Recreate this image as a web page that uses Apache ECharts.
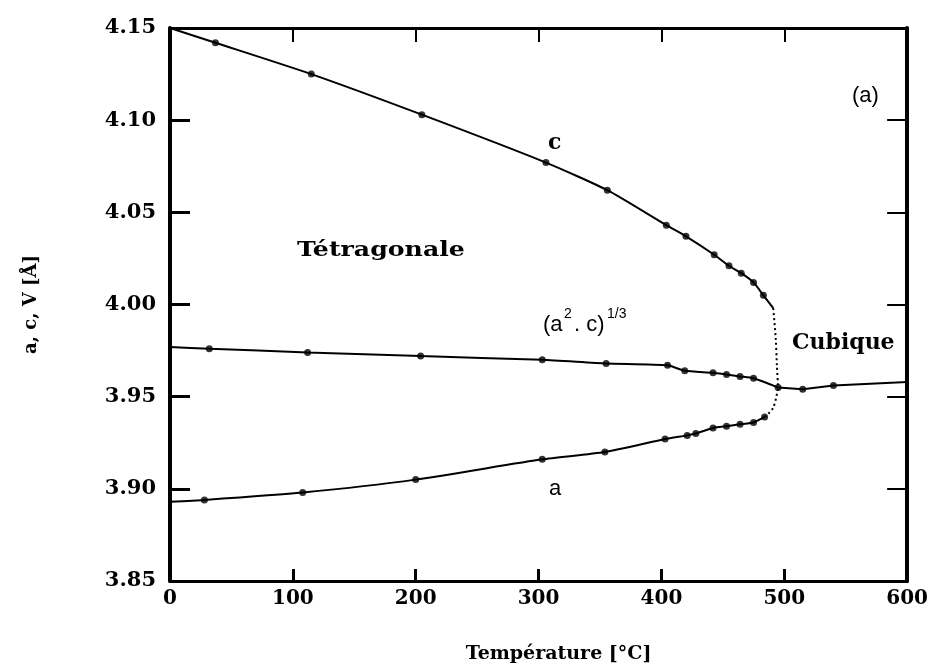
<!DOCTYPE html>
<html>
<head>
<meta charset="utf-8">
<script src="https://cdn.jsdelivr.net/npm/echarts@6/dist/echarts.min.js"></script>
<style>html,body{margin:0;padding:0;background:#fff}#c{width:931px;height:672px}</style>
</head>
<body>
<div id="c"></div>
<script>
// ---- Data (temperature °C, lattice parameter Å) ----
const xTicks = [0, 100, 200, 300, 400, 500, 600];
const yTicks = [3.85, 3.90, 3.95, 4.00, 4.05, 4.10, 4.15];

const cStart = [0, 4.150];
const cDots = [[37,4.142],[115,4.125],[205,4.103],[306,4.077],[356,4.062],[404,4.043],[420,4.037],[443,4.027],[455,4.021],[465,4.017],[475,4.012],[483,4.005]];
const cEnd = [491, 3.998];
const cTrans = [[491,3.998],[493,3.982],[494,3.967],[495,3.955]];

const vStart = [0, 3.977];
const vDots = [[32,3.976],[112,3.974],[204,3.972],[303,3.970],[355,3.968],[405,3.967],[419,3.964],[442,3.963],[453,3.962],[464,3.961],[475,3.960]];

const aStart = [0, 3.893];
const aDots = [[28,3.894],[108,3.898],[200,3.905],[303,3.916],[354,3.920],[403,3.927],[421,3.929],[428,3.930],[442,3.933],[453,3.934],[464,3.935],[475,3.936],[484,3.939]];
const aTrans = [[484,3.939],[491,3.944],[495,3.955]];

const junction = [495, 3.955];
const cubDots = [[515,3.954],[540,3.956]];
const cubEnd = [600, 3.958];

const serifB = 'DejaVu Serif';
const lineBase = {type:'line', showSymbol:false, symbol:'none', smooth:0.2, lineStyle:{color:'#000', width:2}, z:3, silent:true};

const chart = echarts.init(document.getElementById('c'));
chart.setOption({
  animation:false,
  backgroundColor:'#fff',
  grid:{left:170, right:16, top:28, bottom:91},
  xAxis:[{
    type:'value', min:0, max:600, interval:100, position:'bottom',
    axisLine:{onZero:false, lineStyle:{color:'#000', width:3}},
    axisTick:{inside:true, length:12, lineStyle:{color:'#000', width:3}},
    axisLabel:{margin:8, color:'#000', fontFamily:serifB, fontWeight:'bold', fontSize:20,
      formatter:v=>xTicks.includes(v)?String(v):''},
    splitLine:{show:false},
    name:'Température [°C]', nameLocation:'middle', nameGap:64,
    nameTextStyle:{color:'#000', fontFamily:serifB, fontWeight:'bold', fontSize:19, padding:[0,0,0,40]}
  },{
    type:'value', min:0, max:600, interval:100, position:'top',
    axisLine:{onZero:false, lineStyle:{color:'#000', width:3}},
    axisTick:{inside:true, length:14, lineStyle:{color:'#000', width:2}},
    axisLabel:{show:false}, splitLine:{show:false}
  }],
  yAxis:[{
    type:'value', min:3.85, max:4.15, interval:0.05, position:'left',
    axisLine:{onZero:false, lineStyle:{color:'#000', width:4}},
    axisTick:{inside:true, length:20, lineStyle:{color:'#000', width:3}},
    axisLabel:{margin:14, color:'#000', fontFamily:serifB, fontWeight:'bold', fontSize:21,
      formatter:v=>v.toFixed(2)},
    splitLine:{show:false},
    name:'a, c, V [Å]', nameLocation:'middle', nameGap:130,
    nameTextStyle:{color:'#000', fontFamily:serifB, fontWeight:'bold', fontSize:18, padding:[0,0,0,0]}
  },{
    type:'value', min:3.85, max:4.15, interval:0.05, position:'right',
    axisLine:{onZero:false, lineStyle:{color:'#000', width:4}},
    axisTick:{inside:true, length:20, lineStyle:{color:'#000', width:2}},
    axisLabel:{show:false}, splitLine:{show:false}
  }],
  series:[
    Object.assign({}, lineBase, {name:'c', data:[cStart].concat(cDots,[cEnd])}),
    Object.assign({}, lineBase, {name:'c-trans', smooth:0.3, data:cTrans, lineStyle:{color:'#000', width:2, type:[2,3]}}),
    Object.assign({}, lineBase, {name:'V', data:[vStart].concat(vDots,[junction])}),
    Object.assign({}, lineBase, {name:'a', data:[aStart].concat(aDots)}),
    Object.assign({}, lineBase, {name:'a-trans', smooth:0.3, data:aTrans, lineStyle:{color:'#000', width:2, type:[2,3]}}),
    Object.assign({}, lineBase, {name:'cubic', smooth:false, data:[junction].concat(cubDots,[cubEnd])}),
    {type:'scatter', name:'dots', symbol:'circle', symbolSize:7, itemStyle:{color:'#000'}, z:4, silent:true,
      data:[].concat(cDots, vDots, aDots, [junction], cubDots)}
  ],
  graphic:[
    {type:'text', left:548, top:132, style:{text:'c', fill:'#000', font:'bold 22px "DejaVu Serif"'}},
    {type:'text', x:297, y:240, scaleX:1.2, style:{text:'Tétragonale', fill:'#000', font:'bold 21px "DejaVu Serif"'}},
    {type:'text', left:792, top:332, style:{text:'Cubique', fill:'#000', font:'bold 22px "DejaVu Serif"'}},
    {type:'text', left:852, top:85, style:{text:'(a)', fill:'#000', font:'22px "Liberation Sans"'}},
    {type:'text', left:549, top:478, style:{text:'a', fill:'#000', font:'22px "Liberation Sans"'}},
    {type:'text', left:543, top:314, style:{text:'(a', fill:'#000', font:'22px "Liberation Sans"'}},
    {type:'text', left:564, top:307, style:{text:'2', fill:'#000', font:'14px "Liberation Sans"'}},
    {type:'text', left:574, top:314, style:{text:'. c)', fill:'#000', font:'22px "Liberation Sans"'}},
    {type:'text', left:607, top:307, style:{text:'1/3', fill:'#000', font:'14px "Liberation Sans"'}}
  ]
});
</script>
</body>
</html>
